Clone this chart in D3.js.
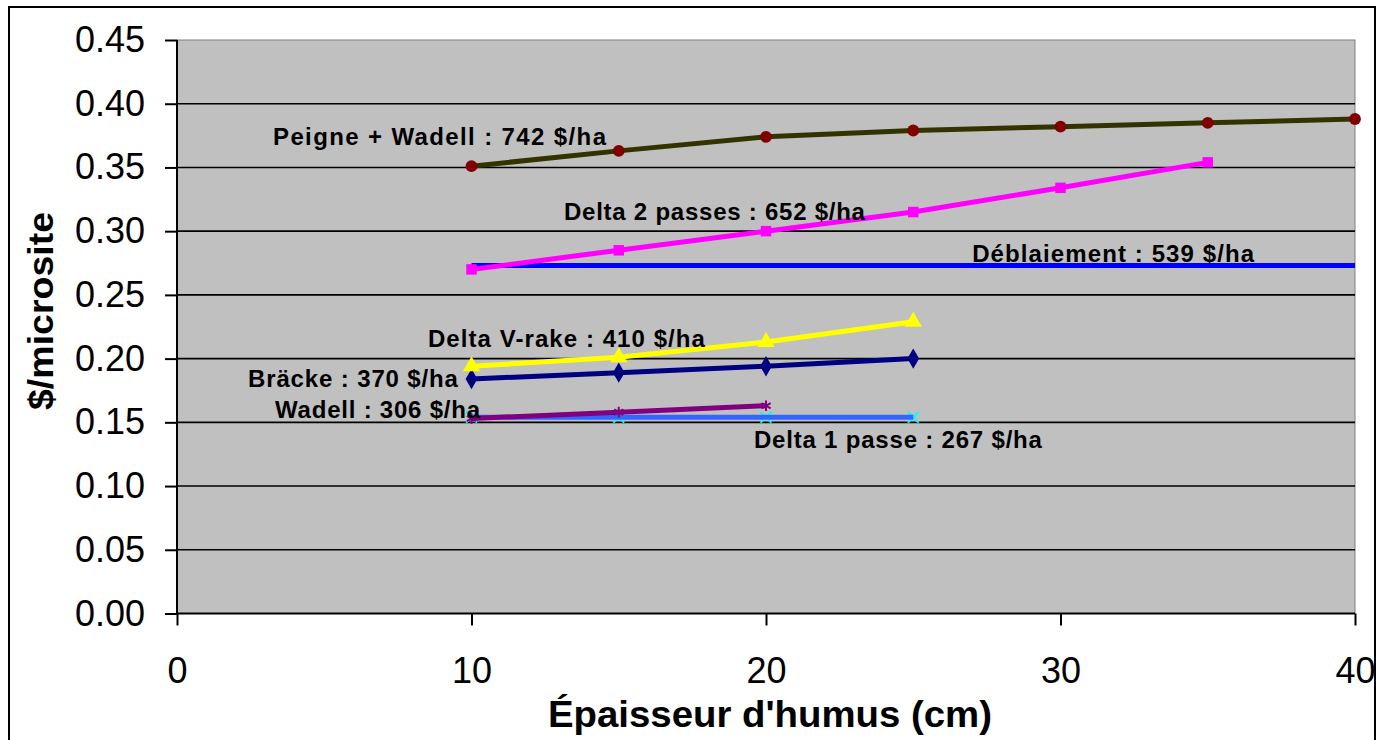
<!DOCTYPE html>
<html>
<head>
<meta charset="utf-8">
<script src="https://cdn.jsdelivr.net/npm/d3@7"></script>
<style>
  body { margin: 0; background: #fff; }
  svg text { font-family: "Liberation Sans", Arial, sans-serif; }
</style>
</head>
<body>
<div id="chart"></div>
<script>
// tick values
var xTicks = [0, 10, 20, 30, 40];
var yTicks = [0, 0.05, 0.10, 0.15, 0.20, 0.25, 0.30, 0.35, 0.40, 0.45];

// series values
var peigneX = [10, 15, 20, 25, 30, 35, 40];
var peigneY = [0.351, 0.363, 0.374, 0.379, 0.382, 0.385, 0.388];
var delta2X = [10, 15, 20, 25, 30, 35];
var delta2Y = [0.270, 0.285, 0.300, 0.315, 0.334, 0.354];
var deblaiX = [10, 15, 20, 25, 30, 35, 40];
var deblaiY = [0.273, 0.273, 0.273, 0.273, 0.273, 0.273, 0.273];
var vrakeX = [10, 15, 20, 25];
var vrakeY = [0.194, 0.201, 0.213, 0.229];
var brackeX = [10, 15, 20, 25];
var brackeY = [0.184, 0.189, 0.194, 0.200];
var wadellX = [10, 15, 20];
var wadellY = [0.153, 0.158, 0.163];
var delta1X = [10, 15, 20, 25];
var delta1Y = [0.154, 0.154, 0.154, 0.154];

// label texts
var labelTexts = ["Peigne + Wadell : 742 $/ha", "Delta 2 passes : 652 $/ha", "Déblaiement : 539 $/ha",
  "Delta V-rake : 410 $/ha", "Bräcke : 370 $/ha", "Wadell : 306 $/ha", "Delta 1 passe : 267 $/ha"];

var margin = {top: 40, left: 177},
    width = 1355 - 177,
    height = 613.5 - 40;

var svg = d3.select("#chart").append("svg")
    .attr("width", 1380)
    .attr("height", 740);

// outer frame
svg.append("rect")
    .attr("x", 9).attr("y", 7)
    .attr("width", 1366).attr("height", 750)
    .attr("fill", "none").attr("stroke", "#000").attr("stroke-width", 2);

var g = svg.append("g")
    .attr("transform", "translate(" + margin.left + "," + margin.top + ")");

var x = d3.scaleLinear().domain([0, 40]).range([0, width]);
var y = d3.scaleLinear().domain([0, 0.45]).range([height, 0]);

// plot area
g.append("rect")
    .attr("width", width).attr("height", height)
    .attr("fill", "#c0c0c0").attr("stroke", "#808080").attr("stroke-width", 1);

// gridlines
g.selectAll(".grid")
  .data(yTicks.filter(function(d) { return d > 0 && d < 0.45; }))
  .enter().append("line")
    .attr("x1", 0).attr("x2", width)
    .attr("y1", function(d) { return y(d); })
    .attr("y2", function(d) { return y(d); })
    .attr("stroke", "#000").attr("stroke-width", 1.6);

// axes
var yAxis = g.append("g")
    .call(d3.axisLeft(y).tickValues(yTicks).tickFormat(d3.format(".2f")).tickSize(12).tickPadding(20));
var xAxis = g.append("g")
    .attr("transform", "translate(0," + height + ")")
    .call(d3.axisBottom(x).tickValues(xTicks).tickSize(12).tickPadding(32));
[xAxis, yAxis].forEach(function(a) {
  a.selectAll("path,line").attr("stroke", "#000").attr("stroke-width", 2);
  a.selectAll("text").attr("font-size", 36).attr("fill", "#000")
    .style("font-family", "'Liberation Sans', Arial, sans-serif");
});
xAxis.select(".domain").attr("d", "M0,0H" + width);
yAxis.select(".domain").attr("d", "M0,0V" + height);

// axis titles
svg.append("text")
    .attr("x", 770).attr("y", 727)
    .attr("text-anchor", "middle")
    .attr("font-size", 37).attr("font-weight", "bold")
    .attr("textLength", 444).attr("lengthAdjust", "spacingAndGlyphs")
    .text("Épaisseur d'humus (cm)");
svg.append("text")
    .attr("transform", "translate(53,311) rotate(-90)")
    .attr("text-anchor", "middle")
    .attr("font-size", 35).attr("font-weight", "bold")
    .attr("textLength", 198).attr("lengthAdjust", "spacingAndGlyphs")
    .text("$/microsite");

var line = d3.line()
    .x(function(d) { return x(d[0]); })
    .y(function(d) { return y(d[1]); });

function pts(xs, ys) { return xs.map(function(v, i) { return [v, ys[i]]; }); }

function drawSeries(xs, ys, color, symbol, size, mcolor, under) {
  var data = pts(xs, ys);
  var s = g.append("g");
  var open = symbol === d3.symbolX || symbol === d3.symbolAsterisk;
  var markers = function() {
    if (!symbol) return;
    s.selectAll(".mk")
      .data(data).enter().append("path")
        .attr("d", d3.symbol().type(symbol).size(size))
        .attr("transform", function(d) { return "translate(" + x(d[0]) + "," + y(d[1]) + ")"; })
        .attr("fill", open ? "none" : mcolor)
        .attr("stroke", open ? mcolor : "none")
        .attr("stroke-width", 2);
  };
  if (under) markers();
  s.append("path").datum(data)
    .attr("d", line)
    .attr("fill", "none").attr("stroke", color).attr("stroke-width", 5);
  if (!under) markers();
}

drawSeries(deblaiX, deblaiY, "#0000ff", null);
drawSeries(delta1X, delta1Y, "#3366ff", d3.symbolX, 80, "#00ffff", true);
drawSeries(wadellX, wadellY, "#800080", d3.symbolAsterisk, 80, "#800080");
drawSeries(brackeX, brackeY, "#000080", d3.symbolDiamond, 120, "#000080");
drawSeries(vrakeX, vrakeY, "#ffff00", d3.symbolTriangle, 130, "#ffff00");
drawSeries(delta2X, delta2Y, "#ff00ff", d3.symbolSquare, 110, "#ff00ff");
drawSeries(peigneX, peigneY, "#333300", d3.symbolCircle, 110, "#800000");

// series labels, placed in data units
var labelX = [3.26, 13.14, 27.0, 8.52, 2.41, 3.33, 19.59];
var labelY = [0.3676, 0.3088, 0.2758, 0.2091, 0.1777, 0.1534, 0.1299];
var labelW = [333, 301, 282, 277, 210, 205, 288];

g.selectAll(".lbl")
  .data(labelTexts)
  .enter().append("text")
    .attr("x", function(d, i) { return x(labelX[i]); })
    .attr("y", function(d, i) { return y(labelY[i]); })
    .attr("font-size", 24).attr("font-weight", "bold").attr("fill", "#000")
    .attr("textLength", function(d, i) { return labelW[i]; })
    .attr("lengthAdjust", "spacing")
    .text(function(d) { return d; });
</script>
</body>
</html>
